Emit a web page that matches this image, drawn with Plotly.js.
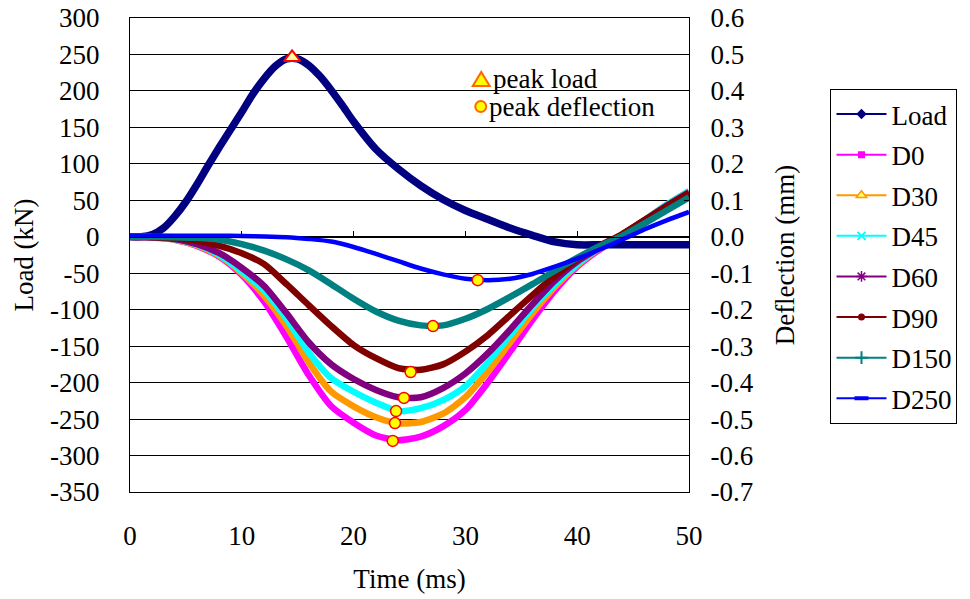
<!DOCTYPE html>
<html>
<head>
<meta charset="utf-8">
<script src="https://cdn.plot.ly/plotly-3.0.1.min.js"></script>
<style>html,body{margin:0;padding:0;background:#fff;}#chart{width:970px;height:599px;}</style>
</head>
<body>
<div id="chart"></div>
<script>
// ---- data ----
const loadTime = [0,1,2,3,4,5,6,7,8,9,10,11,12,13,14,15,16,17,18,19,20,22,24,26,28,30,32,34,36,38,40,42,44,46,48,50];
const load     = [0,0,3,12,28,48,72,98,123,147,171,196,217,234,244,244,235,220,201,180,158,120,93,70,51,36,24,12,2,-7,-11,-11,-11,-11,-11,-11];

const time = [0,2,4,6,8,10,12,14,16,18,20,22,24,26,28,30,32,34,36,38,40,42,44,46,48,50];
const d0   = [0,-0.002,-0.008,-0.025,-0.055,-0.105,-0.178,-0.275,-0.38,-0.465,-0.51,-0.545,-0.558,-0.548,-0.52,-0.475,-0.4,-0.315,-0.228,-0.148,-0.082,-0.035,0.003,0.043,0.085,0.125];
const d30  = [0,-0.001,-0.008,-0.024,-0.053,-0.1,-0.162,-0.245,-0.345,-0.425,-0.465,-0.495,-0.512,-0.508,-0.485,-0.44,-0.37,-0.29,-0.21,-0.138,-0.078,-0.032,0.005,0.045,0.088,0.125];
const d45  = [0,-0.001,-0.007,-0.022,-0.05,-0.095,-0.148,-0.225,-0.318,-0.388,-0.425,-0.455,-0.478,-0.47,-0.448,-0.41,-0.345,-0.27,-0.195,-0.13,-0.075,-0.03,0.005,0.045,0.088,0.125];
const d60  = [0,-0.001,-0.006,-0.02,-0.045,-0.085,-0.135,-0.21,-0.29,-0.35,-0.39,-0.42,-0.44,-0.44,-0.415,-0.375,-0.32,-0.255,-0.185,-0.12,-0.068,-0.03,0.005,0.045,0.085,0.122];
const d90  = [0,-0.001,-0.004,-0.012,-0.025,-0.045,-0.075,-0.13,-0.188,-0.245,-0.297,-0.333,-0.36,-0.365,-0.35,-0.315,-0.27,-0.215,-0.16,-0.108,-0.062,-0.025,0.007,0.045,0.083,0.12];
const d150 = [0,0,-0.001,-0.003,-0.008,-0.02,-0.038,-0.062,-0.092,-0.13,-0.17,-0.205,-0.23,-0.243,-0.243,-0.225,-0.198,-0.165,-0.13,-0.093,-0.058,-0.026,0.002,0.036,0.072,0.108];
const d250 = [0.003,0.003,0.003,0.003,0.003,0.002,0.001,-0.001,-0.006,-0.013,-0.028,-0.047,-0.067,-0.087,-0.103,-0.115,-0.119,-0.115,-0.102,-0.082,-0.06,-0.035,-0.008,0.02,0.045,0.068];

const peakLoadTime = [14.5];
const peakLoadValue = [246];
const peakDeflTime  = [23.5, 23.7, 23.8, 24.5, 25.1, 27.1, 31.1];
const peakDeflValue = [-0.56, -0.511, -0.478, -0.442, -0.371, -0.245, -0.119];

const seriesNames = ['Load','D0','D30','D45','D60','D90','D150','D250'];
const loadTicks = [300,250,200,150,100,50,0,-50,-100,-150,-200,-250,-300,-350];
const loadTickText = ['300','250','200','150','100','50','0','-50','-100','-150','-200','-250','-300','-350'];
const deflTicks = [0.6,0.5,0.4,0.3,0.2,0.1,0,-0.1,-0.2,-0.3,-0.4,-0.5,-0.6,-0.7];
const deflTickText = ['0.6','0.5','0.4','0.3','0.2','0.1','0.0','-0.1','-0.2','-0.3','-0.4','-0.5','-0.6','-0.7'];
const timeTicks = [0,10,20,30,40,50];

// ---- styles ----
const colors = ['#000080','#FF00FF','#FF9900','#00FFFF','#800080','#800000','#008080','#0000FF'];
const widths = [7.5,6.5,6.5,6.5,6.5,6.5,6.5,4.5];
const legendMarkers = [
  {symbol:'diamond', size:8, color:'#000080'},
  {symbol:'square', size:7, color:'#FF00FF'},
  {symbol:'triangle-up', size:9, color:'#FFFF66', line:{color:'#FF9900', width:1.5}},
  {symbol:'x-thin-open', size:8, color:'#00FFFF', line:{color:'#00FFFF', width:2}},
  {symbol:'asterisk-open', size:9, color:'#800080', line:{color:'#800080', width:1.5}},
  {symbol:'circle', size:7, color:'#800000'},
  {symbol:'cross-thin-open', size:9, color:'#008080', line:{color:'#008080', width:2}},
  {symbol:'line-ew-open', size:10, color:'#0000FF', line:{color:'#0000FF', width:4}}
];
const defl = [d0,d30,d45,d60,d90,d150,d250];

const traces = [];
traces.push({x:loadTime, y:load, yaxis:'y', mode:'lines', line:{color:colors[0], width:widths[0], shape:'spline', smoothing:0.7}, showlegend:false, hoverinfo:'skip'});
defl.forEach((d,i)=>{
  traces.push({x:time, y:d, yaxis:'y2', mode:'lines', line:{color:colors[i+1], width:widths[i+1], shape:'spline', smoothing:0.7}, showlegend:false, hoverinfo:'skip'});
});
// peak markers
traces.push({x:peakLoadTime, y:peakLoadValue, yaxis:'y', mode:'markers', marker:{symbol:'triangle-up', size:14, color:'#FFFF99', line:{color:'#FF0000', width:2}}, showlegend:false});
traces.push({x:peakDeflTime, y:peakDeflValue, yaxis:'y2', mode:'markers', marker:{symbol:'circle', size:11, color:'#FFFF00', line:{color:'#FF0000', width:1.5}}, showlegend:false});
// legend entries
seriesNames.forEach((n,i)=>{
  traces.push({x:[null], y:[null], xaxis:'x2', yaxis:'y', name:n, mode:'lines+markers', line:{color:colors[i], width:2}, marker:legendMarkers[i], legendgroup:n, showlegend:true});
});

const px = v => (v-130)/561;
const py = v => (492-v)/474;
const serif = 'Liberation Serif, Times New Roman, serif';

const layout = {
  width:970, height:599,
  margin:{l:130, r:279, t:18, b:107},
  paper_bgcolor:'#ffffff', plot_bgcolor:'#ffffff',
  font:{family:serif, size:27, color:'#000'},
  showlegend:true,
  legend:{x:px(833), y:py(89), xanchor:'left', yanchor:'top', bordercolor:'#000', borderwidth:1, bgcolor:'#fff',
          font:{family:serif, size:27}, tracegroupgap:2.5, traceorder:'grouped', itemwidth:50, itemclick:false},
  xaxis:{range:[0,50], tickvals:timeTicks, ticktext:timeTicks.map(String), showgrid:false, zeroline:false,
         showline:true, mirror:true, linecolor:'#000', linewidth:1, ticks:'', ticklabelstandoff:20,
         tickfont:{family:serif, size:27},
         title:{text:'Time (ms)', standoff:18, font:{family:serif, size:27}}, automargin:false},
  xaxis2:{overlaying:'x', anchor:'free', position:(0-(-350))/650, range:[0,50], tickvals:[10,20,30,40],
          showticklabels:false, ticks:'inside', ticklen:6, tickcolor:'#000', showline:true, linecolor:'#000', linewidth:1,
          showgrid:false, zeroline:false},
  yaxis:{range:[-350,300], tickvals:loadTicks, ticktext:loadTickText, showgrid:true, gridcolor:'#000', gridwidth:1,
         zeroline:false, showline:true, linecolor:'#000', linewidth:1, mirror:false, ticks:'', ticklabelstandoff:24,
         tickfont:{family:serif, size:27},
         title:{text:'Load (kN)', standoff:8, font:{family:serif, size:27}}, automargin:false},
  yaxis2:{overlaying:'y', side:'right', range:[-0.7,0.6], tickvals:deflTicks, ticktext:deflTickText, showgrid:false,
          zeroline:false, showline:true, linecolor:'#000', linewidth:1, ticks:'inside', ticklen:5, tickcolor:'#000',
          ticklabelstandoff:15, tickfont:{family:serif, size:27},
          title:{text:'Deflection (mm)', standoff:22, font:{family:serif, size:27}}, automargin:false},
  annotations:[
    {xref:'paper', yref:'paper', x:px(492), y:py(79), xanchor:'left', yanchor:'middle', text:'peak load', showarrow:false, font:{family:serif, size:27}},
    {xref:'paper', yref:'paper', x:px(488), y:py(107), xanchor:'left', yanchor:'middle', text:'peak deflection', showarrow:false, font:{family:serif, size:27}}
  ],
  shapes:[
    {type:'path', xref:'paper', yref:'paper', path:`M ${px(474)},${py(86)} L ${px(491)},${py(86)} L ${px(482.5)},${py(72)} Z`, fillcolor:'#FFFF00', line:{color:'#FF6600', width:2}},
    {type:'circle', xref:'paper', yref:'paper', x0:px(476.5), x1:px(487.5), y0:py(112), y1:py(101), fillcolor:'#FFFF00', line:{color:'#FF6600', width:2}}
  ]
};

Plotly.newPlot('chart', traces, layout, {staticPlot:true, displayModeBar:false});
</script>
</body>
</html>
